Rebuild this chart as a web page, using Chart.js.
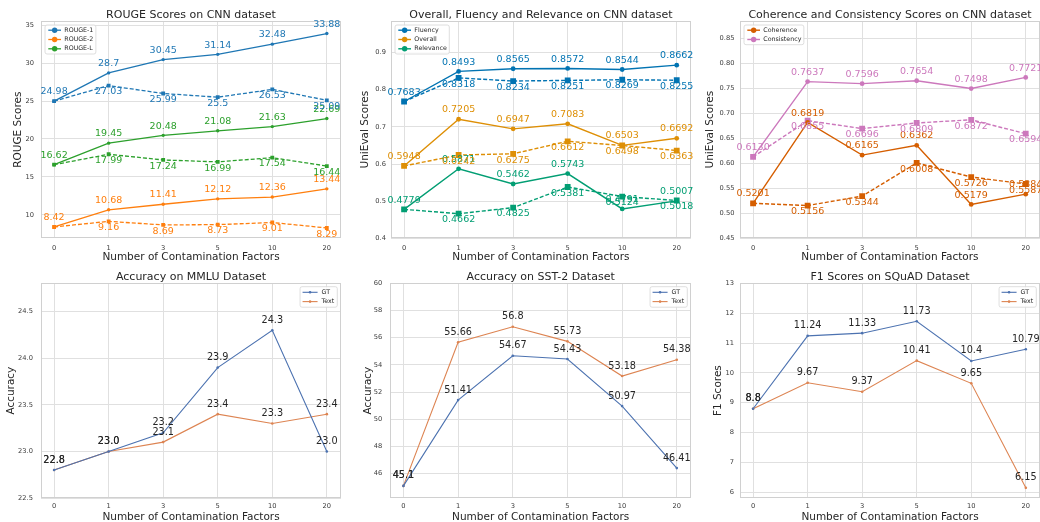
<!DOCTYPE html>
<html>
<head>
<meta charset="utf-8">
<script src="https://cdn.jsdelivr.net/npm/chart.js@4/dist/chart.umd.min.js"></script>
<style>
html, body { margin: 0; padding: 0; background: #fff; overflow: hidden; }
#wrap { position: relative; width: 1040px; height: 522px; overflow: hidden; }
#wrap canvas { position: absolute; }
</style>
</head>
<body>
<div id="wrap"></div>
<script>
const factors = ['0', '1', '3', '5', '10', '20'];

// ROUGE on CNN: solid and dashed run for each metric
const rouge1 = [24.98, 28.7, 30.45, 31.14, 32.48, 33.88];
const rouge1Dash = [24.98, 27.03, 25.99, 25.5, 26.53, 25.09];
const rouge2 = [8.42, 10.68, 11.41, 12.12, 12.36, 13.44];
const rouge2Dash = [8.42, 9.16, 8.69, 8.73, 9.01, 8.29];
const rougeL = [16.62, 19.45, 20.48, 21.08, 21.63, 22.69];
const rougeLDash = [16.62, 17.99, 17.24, 16.99, 17.54, 16.44];

// UniEval on CNN
const fluency = [0.7683, 0.8493, 0.8565, 0.8572, 0.8544, 0.8662];
const fluencyDash = [0.7683, 0.8318, 0.8234, 0.8251, 0.8269, 0.8255];
const overall = [0.5948, 0.7205, 0.6947, 0.7083, 0.6503, 0.6692];
const overallDash = [0.5948, 0.6242, 0.6275, 0.6612, 0.6498, 0.6363];
const relevance = [0.4779, 0.5871, 0.5462, 0.5743, 0.4791, 0.5007];
const relevanceDash = [0.4779, 0.4662, 0.4825, 0.5381, 0.5124, 0.5018];
const coherence = [0.5201, 0.6819, 0.6165, 0.6362, 0.5179, 0.5384];
const coherenceDash = [0.5201, 0.5156, 0.5344, 0.6008, 0.5726, 0.5587];
const consistency = [0.6130, 0.7637, 0.7596, 0.7654, 0.7498, 0.7721];
const consistencyDash = [0.6130, 0.6855, 0.6696, 0.6809, 0.6872, 0.6594];

// downstream tasks
const mmluGT = [22.8, 23.0, 23.2, 23.9, 24.3, 23.0];
const mmluText = [22.8, 23.0, 23.1, 23.4, 23.3, 23.4];
const sstGT = [45.1, 51.41, 54.67, 54.43, 50.97, 46.41];
const sstText = [45.1, 55.66, 56.8, 55.73, 53.18, 54.38];
const squadGT = [8.8, 11.24, 11.33, 11.73, 10.4, 10.79];
const squadText = [8.8, 9.67, 9.37, 10.41, 9.65, 6.15];

// y tick values
const rougeTicks = [10, 15, 20, 25, 30, 35];
const uniTicks = [0.4, 0.5, 0.6, 0.7, 0.8, 0.9];
const cohTicks = [0.45, 0.5, 0.55, 0.6, 0.65, 0.7, 0.75, 0.8, 0.85];
const mmluTicks = [22.5, 23.0, 23.5, 24.0, 24.5];
const sstTicks = [46, 48, 50, 52, 54, 56, 58, 60];
const squadTicks = [6, 7, 8, 9, 10, 11, 12, 13];

Chart.defaults.font.family = '"DejaVu Sans", sans-serif';
Chart.defaults.color = '#262626';

const str = v => String(v);
const f1 = v => v.toFixed(1);
const f2 = v => v.toFixed(2);
const f4 = v => v.toFixed(4);

function line(label, values, color, dashed, st, fmt) {
  return {
    label: label,
    inLegend: !dashed,
    below: dashed,
    skipFirst: dashed,
    texts: values.map(fmt),
    data: values.map((v, i) => ({ x: i, y: v })),
    borderColor: color,
    backgroundColor: color,
    pointBackgroundColor: color,
    pointBorderWidth: 0,
    borderWidth: st.lw,
    borderDash: dashed ? [4, 2] : [],
    pointStyle: dashed ? 'rect' : 'circle',
    pointRadius: dashed ? st.sq : st.dot,
    tension: 0,
    fill: false
  };
}

// plot frame (all four sides)
const frame = {
  id: 'frame',
  beforeDatasetsDraw(chart) {
    const { ctx, chartArea: a } = chart;
    ctx.save();
    ctx.strokeStyle = '#d0d0d0';
    ctx.lineWidth = 1;
    const l = Math.round(a.left) + 0.5, t = Math.round(a.top) + 0.5;
    const r = Math.round(a.right) - 0.5, b = Math.round(a.bottom) - 0.5;
    ctx.strokeRect(l, t, r - l, b - t);
    ctx.restore();
  }
};

// numbers next to each point
const valueLabels = {
  id: 'valueLabels',
  afterDatasetsDraw(chart, args, o) {
    const ctx = chart.ctx;
    ctx.save();
    ctx.font = o.size + 'px "DejaVu Sans"';
    ctx.textAlign = 'center';
    ctx.textBaseline = 'middle';
    chart.data.datasets.forEach((d, di) => {
      chart.getDatasetMeta(di).data.forEach((pt, i) => {
        if (d.skipFirst && i === 0) return;
        ctx.fillStyle = o.color || d.borderColor;
        ctx.fillText(d.texts[i], pt.x, pt.y + (d.below ? o.below : o.above));
      });
    });
    ctx.restore();
  }
};

// small boxed legend inside the plot
const boxLegend = {
  id: 'boxLegend',
  afterDraw(chart, args, o) {
    const { ctx, chartArea: a } = chart;
    const items = chart.data.datasets.filter(d => d.inLegend);
    ctx.save();
    ctx.font = o.size + 'px "DejaVu Sans"';
    const tw = Math.max(...items.map(d => ctx.measureText(d.label).width));
    const w = o.textX + tw + o.padR;
    const h = o.padY * 2 + o.rowH * (items.length - 1);
    const x = o.right ? a.right - o.dx - w : a.left + o.dx;
    const y = a.top + o.dy;
    ctx.beginPath();
    ctx.roundRect(x, y, w, h, 2);
    ctx.fillStyle = 'rgba(255,255,255,0.85)';
    ctx.fill();
    ctx.strokeStyle = '#d6d6d6';
    ctx.lineWidth = 0.8;
    ctx.stroke();
    items.forEach((d, k) => {
      const cy = y + o.padY + k * o.rowH;
      ctx.strokeStyle = d.borderColor;
      ctx.lineWidth = d.borderWidth;
      ctx.beginPath();
      ctx.moveTo(x + o.lx0, cy);
      ctx.lineTo(x + o.lx1, cy);
      ctx.stroke();
      ctx.fillStyle = d.borderColor;
      ctx.beginPath();
      ctx.arc(x + (o.lx0 + o.lx1) / 2, cy, o.dot, 0, Math.PI * 2);
      ctx.fill();
      ctx.fillStyle = '#262626';
      ctx.textAlign = 'left';
      ctx.textBaseline = 'middle';
      ctx.fillText(d.label, x + o.textX, cy);
    });
    ctx.restore();
  }
};

const topStyleA = { lw: 1.3, dot: 1.7, sq: 2.7 };
const topStyleB = { lw: 1.4, dot: 2.4, sq: 4.1 };
const lowStyle = { lw: 1.1, dot: 1.3, sq: 1.3 };

const topLegend = { size: 6.3, dx: 4, dy: 4, padY: 5.2, rowH: 9.3, lx0: 3.3, lx1: 16, textX: 19.3, padR: 2.5, dot: 2.7, right: false };
const lowLegend = { size: 6.3, dx: 3.7, dy: 3.4, padY: 5.6, rowH: 9.3, lx0: 2.5, lx1: 17.5, textX: 21.5, padR: 3, dot: 1.3, right: true };
const topLabels = { size: 9.5, above: -9.3, below: 6.3 };
const lowLabels = { size: 9.7, above: -10, below: -10, color: '#262626' };

const c10 = ['#1f77b4', '#ff7f0e', '#2ca02c'];
const cb = ['#0173b2', '#de8f05', '#029e73', '#d55e00', '#cc78bc'];
const deep = ['#4c72b0', '#dd8452'];

const panels = [
  {
    title: 'ROUGE Scores on CNN dataset', yTitle: 'ROUGE Scores',
    x: 0, y: 0, w: 345, h: 264, yW: 41, xH: 25.7, tPad: [10, 0], yTitlePad: 12.75, xTitlePad: 1.45, xTickPad: 5.5, yTickPad: 7,
    yMin: 6.93, yMax: 35.53, ticks: rougeTicks, tickFmt: str, legend: topLegend, labels: topLabels,
    datasets: [
      line('ROUGE-1', rouge1, c10[0], false, topStyleA, str),
      line('ROUGE-2', rouge2, c10[1], false, topStyleA, str),
      line('ROUGE-L', rougeL, c10[2], false, topStyleA, str),
      line('ROUGE-1', rouge1Dash, c10[0], true, topStyleA, str),
      line('ROUGE-2', rouge2Dash, c10[1], true, topStyleA, str),
      line('ROUGE-L', rougeLDash, c10[2], true, topStyleA, str)
    ]
  },
  {
    title: 'Overall, Fluency and Relevance on CNN dataset', yTitle: 'UniEval Scores',
    x: 350, y: 0, w: 345, h: 264, yW: 41, xH: 25.7, tPad: [10, 0], yTitlePad: 9.75, xTitlePad: 1.45, xTickPad: 5.5, yTickPad: 5,
    yMin: 0.4, yMax: 0.985, ticks: uniTicks, tickFmt: f1, legend: topLegend, labels: topLabels,
    datasets: [
      line('Fluency', fluency, cb[0], false, topStyleB, f4),
      line('Overall', overall, cb[1], false, topStyleB, f4),
      line('Relevance', relevance, cb[2], false, topStyleB, f4),
      line('Fluency', fluencyDash, cb[0], true, topStyleB, f4),
      line('Overall', overallDash, cb[1], true, topStyleB, f4),
      line('Relevance', relevanceDash, cb[2], true, topStyleB, f4)
    ]
  },
  {
    title: 'Coherence and Consistency Scores on CNN dataset', yTitle: 'UniEval Scores',
    x: 697, y: 0, w: 347, h: 264, yW: 43, xH: 25.7, tPad: [10, 0], yTitlePad: 8.45, xTitlePad: 1.45, xTickPad: 5.5, yTickPad: 5.5,
    yMin: 0.45, yMax: 0.885, ticks: cohTicks, tickFmt: f2, legend: topLegend, labels: topLabels,
    datasets: [
      line('Coherence', coherence, cb[3], false, topStyleB, f4),
      line('Consistency', consistency, cb[4], false, topStyleB, f4),
      line('Coherence', coherenceDash, cb[3], true, topStyleB, f4),
      line('Consistency', consistencyDash, cb[4], true, topStyleB, f4)
    ]
  },
  {
    title: 'Accuracy on MMLU Dataset', yTitle: 'Accuracy',
    x: 0, y: 262, w: 345, h: 261, yW: 41, xH: 25, tPad: [9.2, 1.1], yTitlePad: 6.45, xTitlePad: 0.45, xTickPad: 4, yTickPad: 8,
    yMin: 22.5, yMax: 24.805, ticks: mmluTicks, tickFmt: f1, legend: lowLegend, labels: lowLabels,
    datasets: [
      line('GT', mmluGT, deep[0], false, lowStyle, f1),
      line('Text', mmluText, deep[1], false, lowStyle, f1)
    ]
  },
  {
    title: 'Accuracy on SST-2 Dataset', yTitle: 'Accuracy',
    x: 350, y: 262, w: 345, h: 261, yW: 40.3, xH: 25, tPad: [9.2, 1.1], yTitlePad: 13.1, xTitlePad: 0.45, xTickPad: 4, yTickPad: 8,
    yMin: 44.21, yMax: 60, ticks: sstTicks, tickFmt: str, legend: lowLegend, labels: lowLabels,
    datasets: [
      line('GT', sstGT, deep[0], false, lowStyle, str),
      line('Text', sstText, deep[1], false, lowStyle, str)
    ]
  },
  {
    title: 'F1 Scores on SQuAD Dataset', yTitle: 'F1 Scores',
    x: 697, y: 262, w: 347, h: 261, yW: 43, xH: 25, tPad: [9.2, 1.1], yTitlePad: 16.1, xTitlePad: 0.45, xTickPad: 4, yTickPad: 6,
    yMin: 5.81, yMax: 13, ticks: squadTicks, tickFmt: str, legend: lowLegend, labels: lowLabels,
    datasets: [
      line('GT', squadGT, deep[0], false, lowStyle, str),
      line('Text', squadText, deep[1], false, lowStyle, str)
    ]
  }
];

const wrap = document.getElementById('wrap');

function makeChart(p) {
  const c = document.createElement('canvas');
  c.width = p.w;
  c.height = p.h;
  c.style.left = p.x + 'px';
  c.style.top = p.y + 'px';
  c.style.width = p.w + 'px';
  c.style.height = p.h + 'px';
  wrap.appendChild(c);

  new Chart(c, {
    type: 'line',
    data: { datasets: p.datasets },
    options: {
      responsive: false,
      animation: false,
      events: [],
      layout: { padding: { left: 0, right: 2, top: 0, bottom: 0 } },
      plugins: {
        legend: { display: false },
        tooltip: { enabled: false },
        title: {
          display: true, text: p.title, fullSize: false, color: '#262626',
          font: { size: 11, weight: 'normal', lineHeight: 1 },
          padding: { top: p.tPad[0], bottom: p.tPad[1] }
        },
        boxLegend: p.legend,
        valueLabels: p.labels
      },
      scales: {
        x: {
          type: 'linear', min: -0.24, max: 5.26,
          afterBuildTicks: s => { s.ticks = factors.map((f, i) => ({ value: i })); },
          afterFit: s => { s.height = p.xH; },
          ticks: { callback: v => factors[v], font: { size: 6.7 }, color: '#3a3a3a', padding: p.xTickPad, maxRotation: 0, autoSkip: false },
          grid: { color: '#e0e0e0', lineWidth: 1, drawTicks: false },
          border: { display: false },
          title: {
            display: true, text: 'Number of Contamination Factors', color: '#262626',
            font: { size: 10.5, lineHeight: 1 }, padding: { top: 0, bottom: p.xTitlePad }
          }
        },
        y: {
          type: 'linear', min: p.yMin, max: p.yMax,
          afterBuildTicks: s => { s.ticks = p.ticks.map(v => ({ value: v })); },
          afterFit: s => { s.width = p.yW; },
          ticks: { callback: v => p.tickFmt(v), font: { size: 6.7 }, color: '#3a3a3a', padding: p.yTickPad, autoSkip: false },
          grid: { color: '#e0e0e0', lineWidth: 1, drawTicks: false },
          border: { display: false },
          title: {
            display: true, text: p.yTitle, color: '#262626',
            font: { size: 10.5, lineHeight: 1 }, padding: { top: p.yTitlePad, bottom: 0 }
          }
        }
      }
    },
    plugins: [frame, valueLabels, boxLegend]
  });
}

panels.forEach(makeChart);
</script>
</body>
</html>
